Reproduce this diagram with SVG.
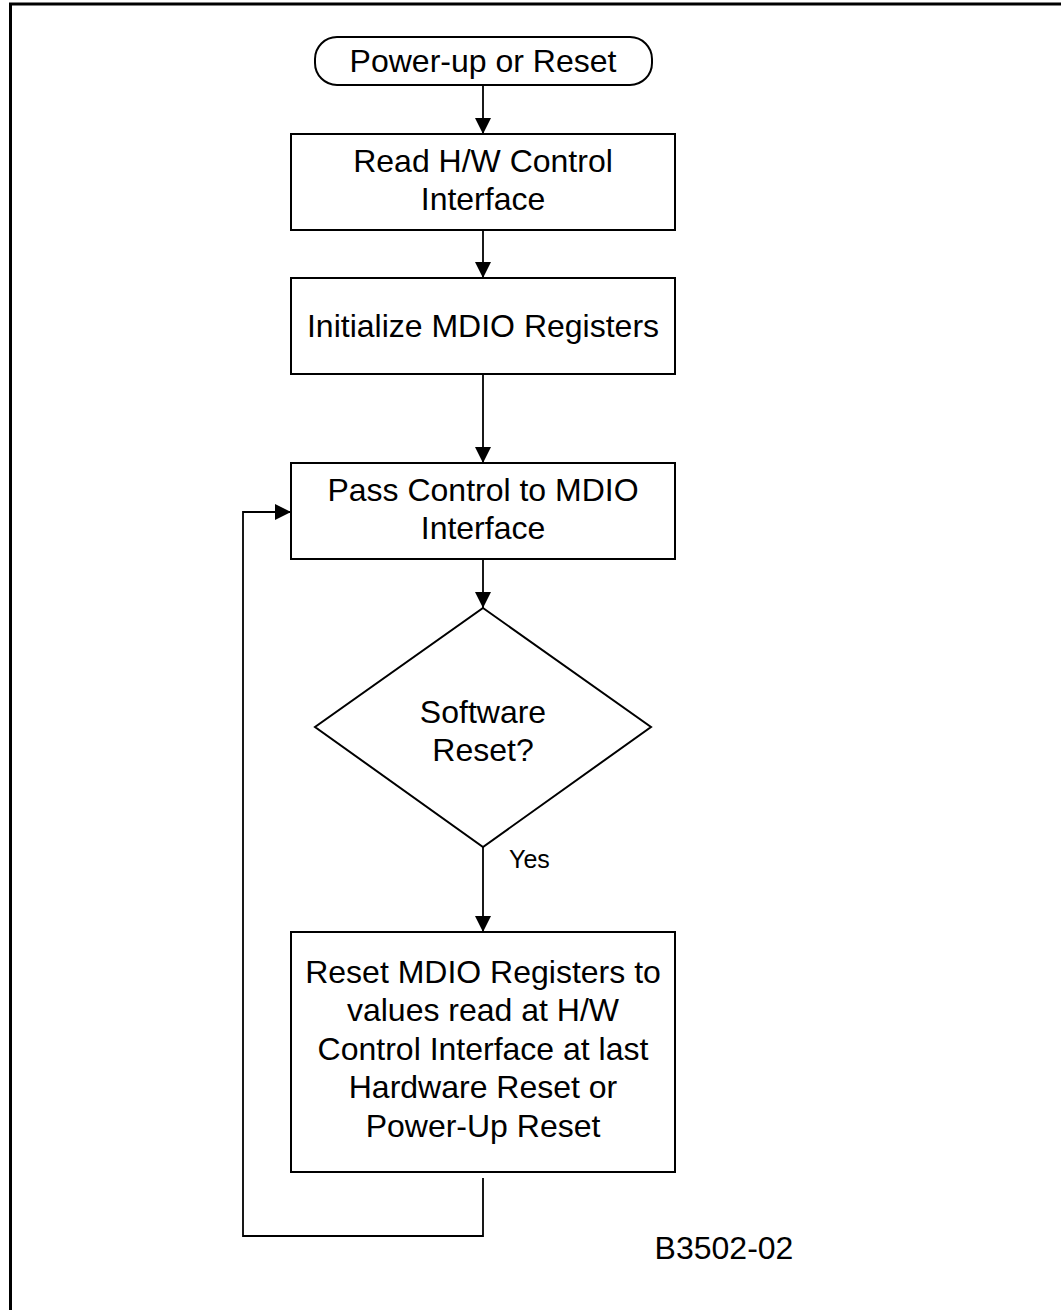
<svg xmlns="http://www.w3.org/2000/svg" width="1061" height="1310" viewBox="0 0 1061 1310">
<defs>
<marker id="arrow" markerUnits="userSpaceOnUse" markerWidth="16" markerHeight="16" refX="16" refY="8" orient="auto">
<path d="M0,0 L16,8 L0,16 z" fill="#000"/>
</marker>
<style>
.shape{fill:#fff;stroke:#000;stroke-width:2}
.conn{fill:none;stroke:#000;stroke-width:1.8}
.t{font-family:"Liberation Sans",Arial,sans-serif;font-size:32px;fill:#000;text-anchor:middle}
.s{font-family:"Liberation Sans",Arial,sans-serif;font-size:25px;fill:#000}
</style>
</defs>
<rect width="1061" height="1310" fill="#fff"/>
<rect x="10.5" y="4" width="1200" height="1500" fill="none" stroke="#000" stroke-width="3"/>
<g id="connectors">
<line class="conn" x1="483" y1="85" x2="483" y2="134" marker-end="url(#arrow)"/>
<line class="conn" x1="483" y1="230" x2="483" y2="278" marker-end="url(#arrow)"/>
<line class="conn" x1="483" y1="374" x2="483" y2="463" marker-end="url(#arrow)"/>
<line class="conn" x1="483" y1="559" x2="483" y2="608" marker-end="url(#arrow)"/>
<line class="conn" x1="483" y1="847" x2="483" y2="932" marker-end="url(#arrow)"/>
<polyline class="conn" points="483,1178 483,1236 243,1236 243,512 291,512" marker-end="url(#arrow)"/>
<text class="s" x="509" y="868">Yes</text>
</g>
<g id="start">
<rect class="shape" x="315" y="37" width="337" height="48" rx="22" ry="22"/>
<text class="t" x="483" y="72">Power-up or Reset</text>
</g>
<g id="readHW">
<rect class="shape" x="291" y="134" width="384" height="96"/>
<text class="t" x="483" y="172">Read H/W Control</text>
<text class="t" x="483" y="210">Interface</text>
</g>
<g id="initMDIO">
<rect class="shape" x="291" y="278" width="384" height="96"/>
<text class="t" x="483" y="337">Initialize MDIO Registers</text>
</g>
<g id="passControl">
<rect class="shape" x="291" y="463" width="384" height="96"/>
<text class="t" x="483" y="501">Pass Control to MDIO</text>
<text class="t" x="483" y="539">Interface</text>
</g>
<g id="swReset">
<polygon class="shape" points="483,608 651,727 483,847 315,727"/>
<text class="t" x="483" y="723">Software</text>
<text class="t" x="483" y="761">Reset?</text>
</g>
<g id="resetMDIO">
<rect class="shape" x="291" y="932" width="384" height="240"/>
<text class="t" x="483" y="983">Reset MDIO Registers to</text>
<text class="t" x="483" y="1021">values read at H/W</text>
<text class="t" x="483" y="1060">Control Interface at last</text>
<text class="t" x="483" y="1098">Hardware Reset or</text>
<text class="t" x="483" y="1137">Power-Up Reset</text>
</g>
<text class="t" x="724" y="1259">B3502-02</text>
</svg>
